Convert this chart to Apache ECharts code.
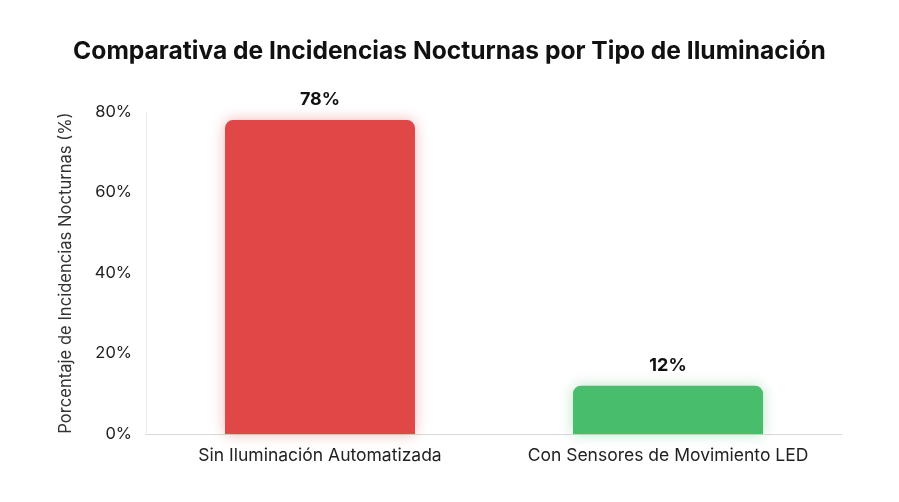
<!DOCTYPE html>
<html>
<head>
<meta charset="utf-8">
<script src="https://cdn.jsdelivr.net/npm/echarts@6/dist/echarts.min.js"></script>
<style>
  html, body { margin: 0; padding: 0; background: #fff; }
  #chart { width: 899px; height: 502px; }
</style>
</head>
<body>
<div id="chart"></div>
<script>
// datos
const categories = ['Sin Iluminación Automatizada', 'Con Sensores de Movimiento LED'];
const values = [78, 12];
const barColors = ['#e04747', '#48bd6b'];
const yTicks = { min: 0, max: 80, interval: 20 };

const myChart = echarts.init(document.getElementById('chart'));

myChart.setOption({
  backgroundColor: '#ffffff',
  textStyle: { fontFamily: 'Inter, "Noto Sans", sans-serif' },
  title: {
    text: 'Comparativa de Incidencias Nocturnas por Tipo de Iluminación',
    left: 'center',
    top: 34,
    textStyle: { fontSize: 24.6, fontWeight: 'bold', color: '#111', fontFamily: 'Inter' }
  },
  grid: { left: 146, right: 57, top: 112, bottom: 68, containLabel: false },
  xAxis: {
    type: 'category',
    data: categories,
    axisLine: { lineStyle: { color: '#d9d9d9' } },
    axisTick: { show: false },
    axisLabel: { interval: 0, hideOverlap: false, color: '#222', fontSize: 17.5, margin: 13, fontFamily: 'Inter' }
  },
  yAxis: {
    type: 'value',
    min: yTicks.min,
    max: yTicks.max,
    interval: yTicks.interval,
    name: 'Porcentaje de Incidencias Nocturnas (%)',
    nameLocation: 'middle',
    nameGap: 72,
    nameTextStyle: { color: '#333', fontSize: 16.6, fontFamily: 'Inter' },
    axisLine: { show: true, lineStyle: { color: '#ececec' } },
    axisTick: { show: false },
    splitLine: { show: false },
    axisLabel: { color: '#222', fontSize: 16.5, margin: 14, formatter: '{value}%', fontFamily: 'Inter' }
  },
  series: [{
    type: 'bar',
    barWidth: '54.6%',
    data: values.map((v, i) => ({
      value: v,
      itemStyle: {
        color: barColors[i],
        shadowColor: barColors[i] + '66',
        shadowBlur: 14
      }
    })),
    itemStyle: { borderRadius: [8, 8, 0, 0] },
    label: {
      show: true,
      position: 'top',
      distance: 11,
      formatter: '{c}%',
      color: '#111',
      fontSize: 18,
      fontWeight: 'bold',
      fontFamily: 'Inter'
    }
  }]
});
</script>
</body>
</html>
